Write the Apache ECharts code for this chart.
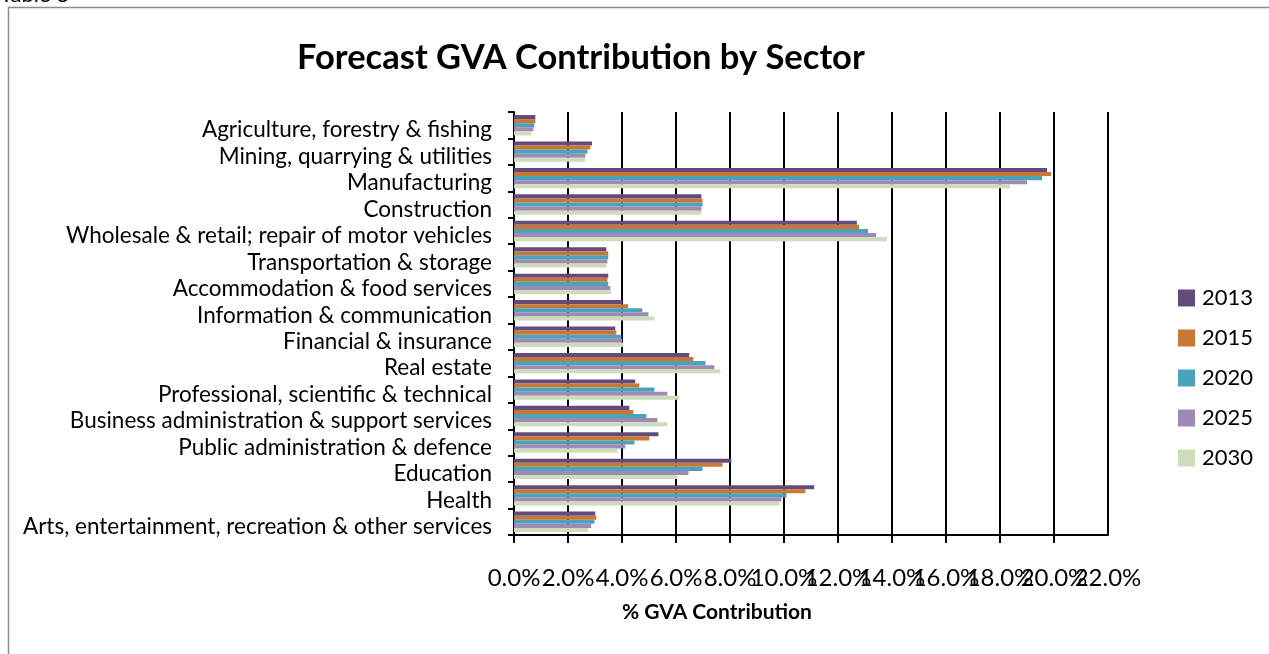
<!DOCTYPE html>
<html>
<head>
<meta charset="utf-8">
<script src="https://cdn.jsdelivr.net/npm/echarts@6/dist/echarts.min.js"></script>
<style>
  html, body { margin: 0; padding: 0; background: #fff; }
  #chart { width: 1269px; height: 654px; }
</style>
</head>
<body>
<div id="chart"></div>
<script>
// sectors, top to bottom as in the table
var sectors = [
  'Agriculture, forestry & fishing',
  'Mining, quarrying & utilities',
  'Manufacturing',
  'Construction',
  'Wholesale & retail; repair of motor vehicles',
  'Transportation & storage',
  'Accommodation & food services',
  'Information & communication',
  'Financial & insurance',
  'Real estate',
  'Professional, scientific & technical',
  'Business administration & support services',
  'Public administration & defence',
  'Education',
  'Health',
  'Arts, entertainment, recreation & other services'
];

var years = ['2013', '2015', '2020', '2025', '2030'];

// % GVA share per sector
var gva2013 = [0.79, 2.89, 19.74, 6.94, 12.70, 3.42, 3.49, 4.01, 3.75, 6.49, 4.49, 4.27, 5.35, 8.05, 11.12, 3.01];
var gva2015 = [0.79, 2.83, 19.89, 6.98, 12.78, 3.49, 3.46, 4.23, 3.79, 6.64, 4.64, 4.42, 5.01, 7.72, 10.79, 3.05];
var gva2020 = [0.75, 2.72, 19.56, 6.98, 13.11, 3.49, 3.49, 4.75, 3.98, 7.09, 5.20, 4.90, 4.46, 6.98, 10.09, 2.98];
var gva2025 = [0.72, 2.64, 19.00, 6.94, 13.41, 3.46, 3.57, 4.98, 4.01, 7.42, 5.68, 5.31, 4.12, 6.46, 9.90, 2.86];
var gva2030 = [0.64, 2.64, 18.37, 6.94, 13.81, 3.42, 3.60, 5.20, 4.05, 7.64, 6.12, 5.68, 3.83, 6.05, 9.83, 2.75];

// x axis range, %
var xMin = 0, xMax = 22, xStep = 2;

var colors = ['#624C7D', '#C87734', '#4AA2BB', '#9F8AB6', '#CFDCBC'];

var font = 'Lato, Calibri, sans-serif';
var seriesData = [gva2013, gva2015, gva2020, gva2025, gva2030];

function pct(v) { return v.toFixed(1) + '%'; }

var series = years.map(function (y, i) {
  return {
    name: y,
    type: 'bar',
    data: seriesData[i],
    barGap: 0,
    barCategoryGap: '23%',
    itemStyle: { color: colors[i] },
    emphasis: { disabled: true }
  };
});

var labelStyle = { fontFamily: font, fontSize: 24, color: '#000', margin: 31 };

var option = {
  animation: false,
  textStyle: { fontFamily: font },
  title: {
    text: 'Forecast GVA Contribution by Sector',
    left: 292,
    top: 35,
    textStyle: { fontFamily: font, fontSize: 34.5, fontWeight: 'bold', color: '#000' }
  },
  legend: {
    orient: 'vertical',
    left: 1173,
    top: 282,
    itemWidth: 17,
    itemHeight: 17,
    itemGap: 18,
    icon: 'rect',
    textStyle: { fontFamily: font, fontSize: 22, color: '#000', padding: [0, 0, 0, 2] },
    data: years
  },
  grid: {
    left: 514,
    right: 161,
    top: 112,
    bottom: 119,
    containLabel: false
  },
  xAxis: [
    {
      type: 'value',
      position: 'bottom',
      min: xMin,
      max: xMax,
      interval: xStep,
      name: '% GVA Contribution',
      nameLocation: 'middle',
      nameGap: 67,
      nameTextStyle: { fontFamily: font, fontSize: 21, fontWeight: 'bold', color: '#000', padding: [0, 188, 0, 0] },
      axisLine: { show: true, lineStyle: { color: '#000', width: 2 } },
      axisTick: { show: true, length: 8, lineStyle: { color: '#000', width: 2 } },
      splitLine: { show: true, lineStyle: { color: '#000', width: 2 } },
      axisLabel: Object.assign({ showMaxLabel: false, formatter: pct }, labelStyle)
    },
    {
      // carries only the last tick label, which the first axis drops as overlapping
      type: 'value',
      position: 'bottom',
      min: xMin,
      max: xMax,
      interval: xStep,
      axisLine: { show: false },
      axisTick: { show: false },
      splitLine: { show: false },
      axisLabel: Object.assign({
        showMaxLabel: true,
        formatter: function (v) { return v === xMax ? pct(v) : ''; }
      }, labelStyle)
    }
  ],
  yAxis: {
    type: 'category',
    inverse: true,
    data: sectors,
    axisLine: { show: true, lineStyle: { color: '#000', width: 2 } },
    axisTick: { show: true, length: 6, lineStyle: { color: '#000', width: 2 } },
    axisLabel: {
      interval: 0,
      fontFamily: font,
      fontSize: 22.5,
      color: '#000',
      margin: 22,
      verticalAlign: 'top',
      lineHeight: 10
    }
  },
  graphic: [
    {
      type: 'rect',
      shape: { x: 8.5, y: 7.5, width: 1300, height: 700 },
      style: { fill: null, stroke: '#8E8E8E', lineWidth: 1.5 },
      silent: true,
      z: -10
    },
    {
      type: 'text',
      left: 0,
      top: -16,
      style: { text: 'Table 6', fontFamily: font, fontSize: 22, fill: '#000' },
      silent: true
    }
  ],
  series: series
};

var myChart = echarts.init(document.getElementById('chart'));
myChart.setOption(option);
</script>
</body>
</html>
